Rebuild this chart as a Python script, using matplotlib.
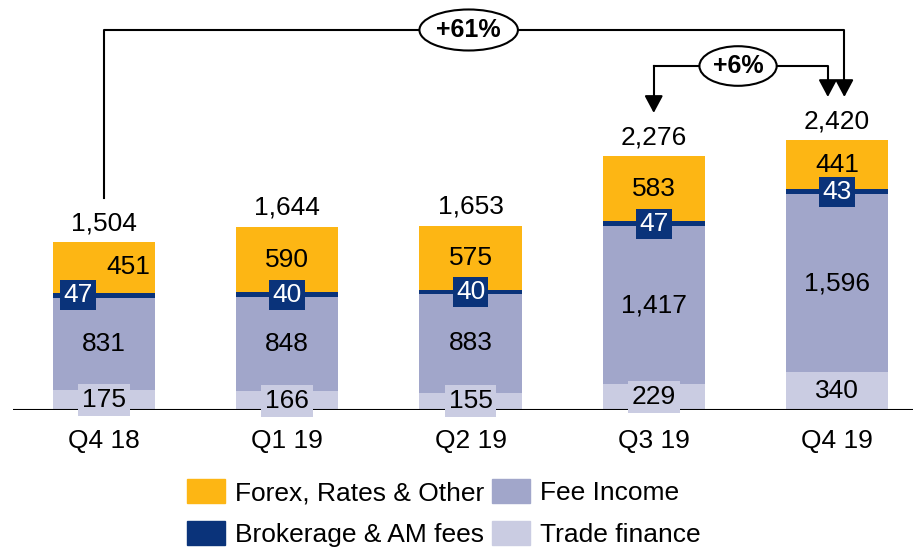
from matplotlib import pyplot as plt

plt.rcParams['font.family'] = ['Liberation Sans', 'DejaVu Sans']
plt.rcParams['font.size'] = 19

quarters = ['Q4 18', 'Q1 19', 'Q2 19', 'Q3 19', 'Q4 19']
trade_finance = [175, 166, 155, 229, 340]
fee_income = [831, 848, 883, 1417, 1596]
brokerage = [47, 40, 40, 47, 43]
forex = [451, 590, 575, 583, 441]
totals = [1504, 1644, 1653, 2276, 2420]
growth_labels = ['+61%', '+6%']

c_forex = '#FDB614'
c_brok = '#0A337A'
c_fee = '#A1A6CA'
c_trade = '#CACCE2'

# label offsets (x, in bar units) for the crowded first bar
forex_dx = [0.13, 0, 0, 0, 0]
brok_dx = [-0.14, 0, 0, 0, 0]

fig = plt.figure(figsize=(9.13, 5.51), dpi=100)
ax = fig.add_axes([13 / 913, 141 / 551, 900 / 913, 410 / 551])

x = list(range(len(quarters)))
w = 0.557
b1 = trade_finance
b2 = [a + b for a, b in zip(b1, fee_income)]
b3 = [a + b for a, b in zip(b2, brokerage)]

ax.bar(x, trade_finance, w, color=c_trade, zorder=1)
ax.bar(x, fee_income, w, bottom=b1, color=c_fee, zorder=1)
ax.bar(x, brokerage, w, bottom=b2, color=c_brok, zorder=1)
ax.bar(x, forex, w, bottom=b3, color=c_forex, zorder=1)

ax.axhline(0, color='black', lw=1.5, zorder=2)

for i in x:
    ax.text(i, trade_finance[i] / 2, f'{trade_finance[i]:,}', ha='center', va='center', zorder=3,
            bbox=dict(boxstyle='square,pad=0.15', fc=c_trade, ec='none'))
    ax.text(i, b1[i] + fee_income[i] / 2, f'{fee_income[i]:,}', ha='center', va='center', zorder=3)
    ax.text(i + brok_dx[i], b2[i] + brokerage[i] / 2, f'{brokerage[i]:,}', ha='center', va='center',
            color='white', zorder=4, bbox=dict(boxstyle='square,pad=0.12', fc=c_brok, ec='none'))
    ax.text(i + forex_dx[i], b3[i] + forex[i] / 2, f'{forex[i]:,}', ha='center', va='center', zorder=3)
    ax.annotate(f'{totals[i]:,}', (i, totals[i]), xytext=(0, 5), textcoords='offset points',
                ha='center', va='bottom')

# growth brackets
arrow = dict(arrowstyle='-|>,head_length=0.75,head_width=0.4', lw=1.5, color='black',
             mutation_scale=14, shrinkA=0, shrinkB=0)
y61 = 3408
y6 = 3085
ax.plot([0, 0, 4.04, 4.04], [totals[0] + 397, y61, y61, 2950], color='black', lw=1.5, zorder=2)
ax.annotate('', xy=(4.04, totals[4] + 387), xytext=(4.04, 2960), arrowprops=arrow)
ax.text(1.99, y61, growth_labels[0], ha='center', va='center', fontsize=18, fontweight='bold',
        bbox=dict(boxstyle='ellipse,pad=0.1', fc='white', ec='black', lw=1.5))

ax.plot([3.0, 3.0], [2800, y6], color='black', lw=1.5)
ax.plot([3.0, 3.95, 3.95], [y6, y6, 2950], color='black', lw=1.5)
ax.annotate('', xy=(3.0, totals[3] + 388), xytext=(3.0, 2810), arrowprops=arrow)
ax.annotate('', xy=(3.95, totals[4] + 387), xytext=(3.95, 2960), arrowprops=arrow)
ax.text(3.46, y6, growth_labels[1], ha='center', va='center', fontsize=18, fontweight='bold',
        bbox=dict(boxstyle='ellipse,pad=0.08', fc='white', ec='black', lw=1.5))

ax.set_xlim(-0.4966, 4.4147)
ax.set_ylim(0, 3677)
ax.set_xticks(x)
ax.set_xticklabels(quarters, fontsize=19)
ax.tick_params(axis='x', length=0, pad=14)
ax.set_yticks([])
for s in ax.spines.values():
    s.set_visible(False)

handles = [plt.Rectangle((0, 0), 1, 1, color=c) for c in [c_forex, c_brok, c_fee, c_trade]]
labels = ['Forex, Rates & Other', 'Brokerage & AM fees', 'Fee Income', 'Trade finance']
fig.legend(handles, labels, ncol=2, loc='upper left', bbox_to_anchor=(174 / 913, 1 - 466 / 551),
           frameon=False, borderpad=0, handlelength=1.45, handleheight=1.0, handletextpad=0.38,
           columnspacing=0.27, labelspacing=0.62, fontsize=19)

fig.savefig('out.png', dpi=100)
